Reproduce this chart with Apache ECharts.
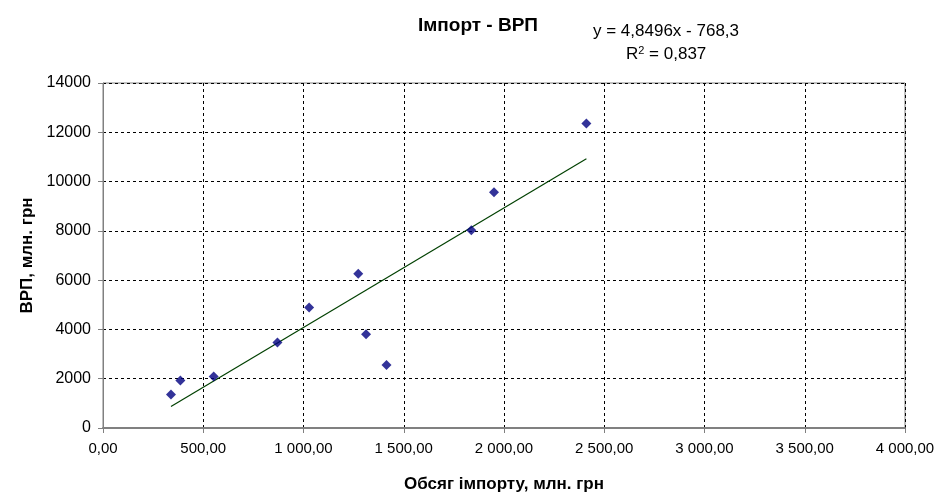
<!DOCTYPE html>
<html>
<head>
    <meta charset="utf-8">
    <title>Імпорт - ВРП</title>
    <script src="https://cdn.jsdelivr.net/npm/echarts@6.0.0/dist/echarts.min.js"></script>
    <style>
        body, html { margin: 0; padding: 0; background: #fff; }
        #main { width: 946px; height: 496px; }
    </style>
</head>
<body>
    <div id="main"></div>
    <script>
        // обсяг імпорту (x) та ВРП (y), млн. грн
        var importVals = [339, 386, 552, 870, 1028, 1273, 1312, 1414, 1837, 1950, 2411];
        var grpVals = [1357, 1927, 2089, 3471, 4894, 6260, 3809, 2561, 8024, 9569, 12358];
        // лінія тренду: кінцеві точки
        var trendLine = [[339, 876], [2411, 10924]];
        var eqText = 'y = 4,8496x - 768,3';
        var r2Text = '0,837';

        var points = importVals.map(function (x, i) { return [x, grpVals[i]]; });

        function fmtX(v) {
            var s = v.toFixed(2).split('.');
            var int = s[0].replace(/\B(?=(\d{3})+(?!\d))/g, ' ');
            return int + ',' + s[1];
        }

        var font = 'Liberation Sans, Arial, sans-serif';
        var chart = echarts.init(document.getElementById('main'));
        chart.setOption({
            backgroundColor: '#fff',
            textStyle: { fontFamily: font },
            animation: false,
            title: {
                text: 'Імпорт - ВРП',
                left: 473,
                top: 11,
                textAlign: 'center',
                textStyle: { fontSize: 19, fontWeight: 'bold', color: '#000', fontFamily: font }
            },
            graphic: [
                {
                    type: 'text', left: 593, top: 23,
                    style: { text: eqText, fontSize: 17, fill: '#000', fontFamily: font }
                },
                {
                    type: 'text', left: 626, top: 45,
                    style: {
                        text: '{n|R}{s|2}{n| = ' + r2Text + '}',
                        fill: '#000', fontFamily: font,
                        rich: {
                            n: { fontSize: 17, fontFamily: font, verticalAlign: 'bottom' },
                            s: { fontSize: 11, fontFamily: font, verticalAlign: 'top', padding: [0, 0, 7, 0] }
                        }
                    }
                }
            ],
            grid: {
                left: 103, right: 41, top: 83, bottom: 68,
                outerBoundsMode: 'none',
                show: true, borderColor: '#808080', borderWidth: 1
            },
            xAxis: {
                type: 'value',
                min: 0, max: 4000, interval: 500,
                name: 'Обсяг імпорту, млн. грн',
                nameLocation: 'middle',
                nameGap: 48,
                nameTextStyle: { fontSize: 17, fontWeight: 'bold', color: '#000', fontFamily: font },
                axisLine: { show: true, lineStyle: { color: '#808080', width: 2 } },
                axisTick: { show: true, length: 5, lineStyle: { color: '#808080' } },
                axisLabel: { formatter: fmtX, fontSize: 15, color: '#000', margin: 13, fontFamily: font },
                splitLine: { show: true, lineStyle: { color: '#000', type: [3, 3], width: 1 } }
            },
            yAxis: {
                type: 'value',
                min: 0, max: 14000, interval: 2000,
                name: 'ВРП, млн. грн',
                nameLocation: 'middle',
                nameGap: 66,
                nameTextStyle: { fontSize: 17, fontWeight: 'bold', color: '#000', fontFamily: font },
                axisLine: { show: true, lineStyle: { color: '#808080', width: 1 } },
                axisTick: { show: true, length: 5, lineStyle: { color: '#808080' } },
                axisLabel: { formatter: function (v) { return String(v); }, fontSize: 16, color: '#000', margin: 12, fontFamily: font },
                splitLine: { show: true, lineStyle: { color: '#000', type: [3, 3], width: 1 } }
            },
            series: [
                {
                    type: 'scatter',
                    data: points,
                    symbol: 'diamond',
                    symbolSize: 10,
                    itemStyle: { color: '#000080' },
                    z: 3
                },
                {
                    type: 'line',
                    data: trendLine,
                    symbol: 'none',
                    lineStyle: { color: '#004000', width: 1.2 },
                    z: 2
                }
            ]
        });
    </script>
</body>
</html>
